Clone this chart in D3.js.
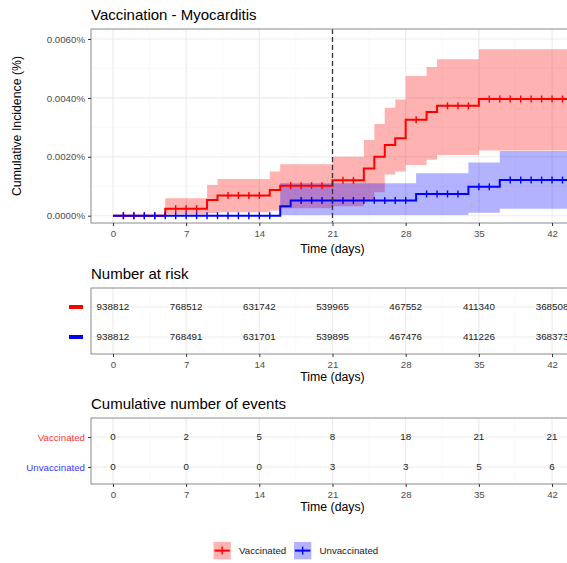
<!DOCTYPE html>
<html><head><meta charset="utf-8">
<script src="https://cdn.jsdelivr.net/npm/d3@7"></script>
<style>
html,body{margin:0;padding:0;background:#fff;}
svg{display:block;font-family:"Liberation Sans",Arial,Helvetica,sans-serif;}
</style></head>
<body>
<div id="chart"></div>
<script>
// ---------- data ----------
const groups = ["Vaccinated", "Unvaccinated"];
const groupColors = ["#FF0000", "#0000FF"];
const xTicks = [0, 7, 14, 21, 28, 35, 42];
const yTicks = [0, 0.002, 0.004, 0.006]; // percent units

// Vaccinated (red) step curve: time, estimate, lower, upper (in %)
const redTimes = [0, 5, 9, 10, 15, 16, 21, 24, 25, 26, 27, 28, 30, 31, 35, 44];
const redEst   = [0, 0.00024, 0.00053, 0.00069, 0.00087, 0.00102, 0.00120, 0.00160, 0.00200, 0.00240, 0.00263, 0.00326, 0.00352, 0.00373, 0.00396, 0.00396];
const redLower = [0, 0.00005, 0.00009, 0.00012, 0.00018, 0.00025, 0.00032, 0.00050, 0.00080, 0.00140, 0.00150, 0.00172, 0.00190, 0.00206, 0.00221, 0.00221];
const redUpper = [0, 0.00059, 0.00104, 0.00125, 0.00150, 0.00175, 0.00200, 0.00257, 0.00311, 0.00367, 0.00395, 0.00474, 0.00505, 0.00531, 0.00565, 0.00565];

// Unvaccinated (blue)
const blueTimes = [0, 16, 17, 29, 34, 37, 44];
const blueEst   = [0, 0.00032, 0.00052, 0.00074, 0.00098, 0.00121, 0.00121];
const blueLower = [0, 0.00002, 0.00002, 0.00002, 0.00010, 0.00024, 0.00024];
const blueUpper = [0, 0.00110, 0.00110, 0.00144, 0.00181, 0.00220, 0.00220];

const censorDays = d3.range(1, 44);
const landmarkDay = 21;

const riskTimes = [0, 7, 14, 21, 28, 35, 42];
const riskVacc   = [938812, 768512, 631742, 539965, 467552, 411340, 368508];
const riskUnvacc = [938812, 768491, 631701, 539895, 467476, 411226, 368373];
const eventsVacc   = [0, 2, 5, 8, 18, 21, 21];
const eventsUnvacc = [0, 0, 0, 3, 3, 5, 6];

// ---------- layout ----------
const W = 567, H = 563;
const svg = d3.select("#chart").append("svg").attr("width", W).attr("height", H);
svg.append("rect").attr("width", W).attr("height", H).attr("fill", "#fff");

const PL = 91, PR = 574;
const x = d3.scaleLinear().domain([-2.1, 44.1]).range([PL, PR]);
const xMinor = d3.range(-3.5, 46, 7);

const mainTop = 29, mainBot = 223;
const y = d3.scaleLinear().domain([-0.000248, 0.00634]).range([mainBot, mainTop]);
const yMinor = [0.001, 0.003, 0.005];

const GRID_MAJ = "#EBEBEB", GRID_MIN = "#F5F5F5", BORDER = "#8a8a8a";
const TICK_COL = "#4D4D4D";

function rows(obj){ return obj.t.map((t,i)=>({t, e:obj.e[i], lo:obj.lo[i], hi:obj.hi[i]})); }
const redData = rows({t:redTimes, e:redEst, lo:redLower, hi:redUpper});
const blueData = rows({t:blueTimes, e:blueEst, lo:blueLower, hi:blueUpper});

function stepValue(data, day){
  let v = data[0].e;
  for (const d of data) if (d.t <= day) v = d.e;
  return v;
}

// ---------- main panel ----------
const defs = svg.append("defs");
defs.append("clipPath").attr("id","clipMain").append("rect")
  .attr("x", PL).attr("y", mainTop).attr("width", PR-PL).attr("height", mainBot-mainTop);

const gMain = svg.append("g");
gMain.selectAll(".xmin").data(xMinor.filter(v=>x(v)>PL && x(v)<PR)).join("line")
  .attr("x1", d=>x(d)).attr("x2", d=>x(d)).attr("y1", mainTop).attr("y2", mainBot)
  .attr("stroke", GRID_MIN).attr("stroke-width", 0.6);
gMain.selectAll(".ymin").data(yMinor).join("line")
  .attr("x1", PL).attr("x2", PR).attr("y1", d=>y(d)).attr("y2", d=>y(d))
  .attr("stroke", GRID_MIN).attr("stroke-width", 0.6);
gMain.selectAll(".xmaj").data(xTicks).join("line")
  .attr("x1", d=>x(d)).attr("x2", d=>x(d)).attr("y1", mainTop).attr("y2", mainBot)
  .attr("stroke", GRID_MAJ).attr("stroke-width", 1.1);
gMain.selectAll(".ymaj").data(yTicks).join("line")
  .attr("x1", PL).attr("x2", PR).attr("y1", d=>y(d)).attr("y2", d=>y(d))
  .attr("stroke", GRID_MAJ).attr("stroke-width", 1.1);

const plot = gMain.append("g").attr("clip-path","url(#clipMain)");
const area = d3.area().curve(d3.curveStepAfter).x(d=>x(d.t)).y0(d=>y(d.lo)).y1(d=>y(d.hi));
const line = d3.line().curve(d3.curveStepAfter).x(d=>x(d.t)).y(d=>y(d.e));

plot.append("path").datum(redData.filter(d=>d.t>=5)).attr("d", area).attr("fill", "rgba(255,0,0,0.3)");
plot.append("path").datum(blueData.filter(d=>d.t>=16)).attr("d", area).attr("fill", "rgba(0,0,255,0.3)");

function drawCurve(data, color){
  plot.append("path").datum(data).attr("d", line).attr("fill","none")
    .attr("stroke", color).attr("stroke-width", 2);
  const evTimes = new Set(data.map(d=>d.t));
  const marks = censorDays.filter(d=>!evTimes.has(d));
  plot.selectAll(null).data(marks).join("line")
    .attr("x1", d=>x(d)).attr("x2", d=>x(d))
    .attr("y1", d=>y(stepValue(data,d))-3.5).attr("y2", d=>y(stepValue(data,d))+3.5)
    .attr("stroke", color).attr("stroke-width", 1.4);
}
drawCurve(redData, groupColors[0]);
drawCurve(blueData, groupColors[1]);

plot.append("line").attr("x1", x(landmarkDay)).attr("x2", x(landmarkDay))
  .attr("y1", mainTop).attr("y2", mainBot)
  .attr("stroke", "#333").attr("stroke-width", 1.3).attr("stroke-dasharray", "5,3");

gMain.append("rect").attr("x", PL).attr("y", mainTop).attr("width", PR-PL).attr("height", mainBot-mainTop)
  .attr("fill","none").attr("stroke", BORDER).attr("stroke-width", 1);

function styleAxis(g){
  g.select(".domain").remove();
  g.selectAll(".tick line").attr("stroke", "#333").attr("stroke-width", 1);
  g.selectAll(".tick text").attr("fill", TICK_COL).attr("font-size", "9.7px")
    .attr("font-family", "Liberation Sans, Arial, sans-serif");
}

svg.append("g").attr("transform", `translate(0,${mainBot})`)
  .call(d3.axisBottom(x).tickValues(xTicks).tickSize(3).tickPadding(4).tickFormat(d3.format("d")))
  .call(styleAxis);
svg.append("g").attr("transform", `translate(${PL},0)`)
  .call(d3.axisLeft(y).tickValues(yTicks).tickSize(3).tickPadding(3).tickFormat(d=>d3.format(".4f")(d)+"%"))
  .call(styleAxis);

svg.append("text").attr("x", 91).attr("y", 20).attr("font-size", "15px").attr("fill","#000")
  .text("Vaccination - Myocarditis");
svg.append("text").attr("transform", `translate(21,${(mainTop+mainBot)/2}) rotate(-90)`)
  .attr("text-anchor","middle").attr("font-size","12.3px").attr("fill","#000")
  .text("Cumulative Incidence (%)");
svg.append("text").attr("x", (PL+PR)/2).attr("y", 253).attr("text-anchor","middle")
  .attr("font-size","12.3px").attr("fill","#000").text("Time (days)");

// ---------- tables ----------
function table(opts){
  const {top, bot, title, titleY, rowsY, vals, labelsFn, axisTitleY} = opts;
  const g = svg.append("g");
  const yr = d3.scalePoint().domain(groups).range(rowsY);
  g.selectAll(null).data(xMinor.filter(v=>x(v)>PL && x(v)<PR)).join("line")
    .attr("x1", d=>x(d)).attr("x2", d=>x(d)).attr("y1", top).attr("y2", bot)
    .attr("stroke", GRID_MIN).attr("stroke-width", 0.6);
  g.selectAll(null).data(xTicks).join("line")
    .attr("x1", d=>x(d)).attr("x2", d=>x(d)).attr("y1", top).attr("y2", bot)
    .attr("stroke", GRID_MAJ).attr("stroke-width", 1.1);
  g.selectAll(null).data(groups).join("line")
    .attr("x1", PL).attr("x2", PR).attr("y1", d=>yr(d)).attr("y2", d=>yr(d))
    .attr("stroke", GRID_MAJ).attr("stroke-width", 1.1);
  groups.forEach((grp, gi)=>{
    g.selectAll(null).data(riskTimes.map((t,i)=>({t, v: vals[gi][i]}))).join("text")
      .attr("x", d=>x(d.t)).attr("y", yr(grp)).attr("dy","0.35em")
      .attr("text-anchor","middle").attr("font-size","9.8px").attr("fill","#1a1a1a")
      .text(d=>d.v);
  });
  g.append("rect").attr("x", PL).attr("y", top).attr("width", PR-PL).attr("height", bot-top)
    .attr("fill","none").attr("stroke", BORDER).attr("stroke-width", 1);
  svg.append("g").attr("transform", `translate(0,${bot})`)
    .call(d3.axisBottom(x).tickValues(xTicks).tickSize(3).tickPadding(4).tickFormat(d3.format("d")))
    .call(styleAxis);
  svg.append("text").attr("x", 91).attr("y", titleY).attr("font-size","15px").attr("fill","#000").text(title);
  svg.append("text").attr("x", (PL+PR)/2).attr("y", axisTitleY).attr("text-anchor","middle")
    .attr("font-size","12.3px").attr("fill","#000").text("Time (days)");
  labelsFn(yr);
}

table({top:288, bot:354, title:"Number at risk", titleY:279, rowsY:[307,337],
  vals:[riskVacc, riskUnvacc], axisTitleY:381,
  labelsFn: (yr)=>{
    svg.selectAll(null).data(groups).join("line")
      .attr("x1", 69).attr("x2", 83).attr("y1", d=>yr(d)).attr("y2", d=>yr(d))
      .attr("stroke", (d,i)=>groupColors[i]).attr("stroke-width", 4);
  }});

table({top:418, bot:484, title:"Cumulative number of events", titleY:409, rowsY:[437,467],
  vals:[eventsVacc, eventsUnvacc], axisTitleY:511,
  labelsFn: (yr)=>{
    const ga = svg.append("g").attr("transform", `translate(${PL},0)`)
      .call(d3.axisLeft(yr).tickSize(3).tickPadding(3));
    styleAxis(ga);
    ga.selectAll(".tick text").attr("fill", (d,i)=>groupColors[i]).attr("opacity", 0.8);
  }});

// ---------- legend ----------
const legend = svg.append("g");
const legX = [213.5, 294];
const legTextX = [239, 319.5];
groups.forEach((grp,i)=>{
  const lg = legend.append("g");
  lg.append("rect").attr("x", legX[i]).attr("y", 542).attr("width", 17.3).attr("height", 17.3)
    .attr("fill", i===0 ? "rgba(255,0,0,0.3)" : "rgba(0,0,255,0.3)");
  lg.append("line").attr("x1", legX[i]+1).attr("x2", legX[i]+16.3).attr("y1", 550.6).attr("y2", 550.6)
    .attr("stroke", groupColors[i]).attr("stroke-width", 2);
  lg.append("line").attr("x1", legX[i]+8.65).attr("x2", legX[i]+8.65).attr("y1", 546.6).attr("y2", 554.6)
    .attr("stroke", groupColors[i]).attr("stroke-width", 1.4);
  lg.append("text").attr("x", legTextX[i]).attr("y", 550.6).attr("dy","0.35em")
    .attr("font-size","9.7px").attr("fill","#1a1a1a").text(grp);
});
</script>
</body></html>
